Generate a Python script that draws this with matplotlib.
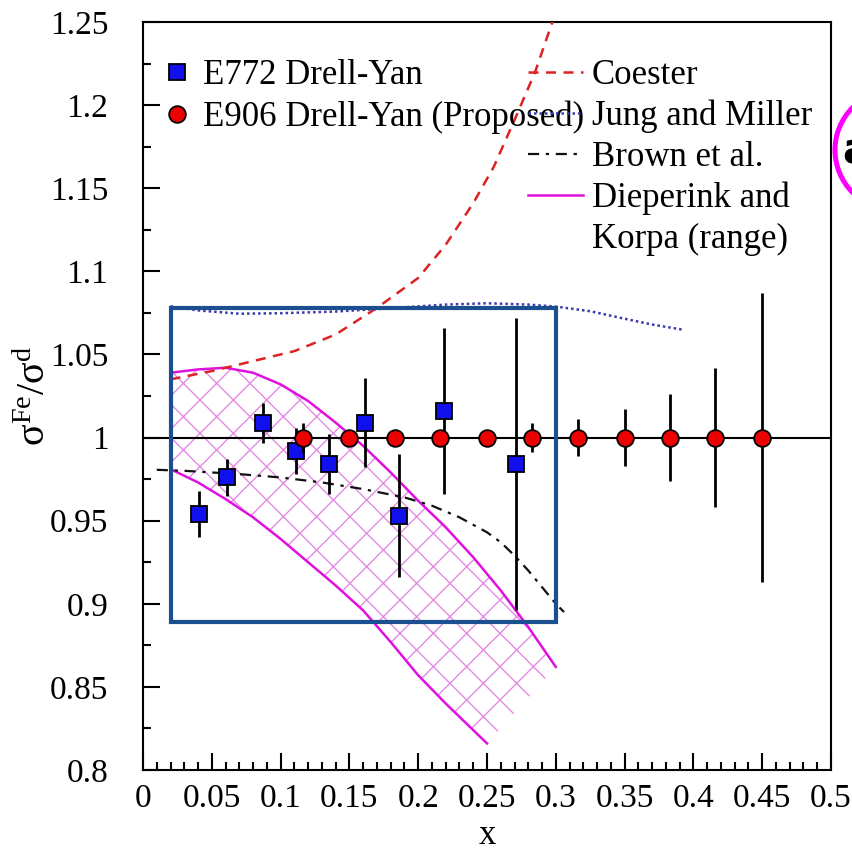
import matplotlib
matplotlib.use("Agg")
import matplotlib.pyplot as plt
from matplotlib.lines import Line2D
from matplotlib.patches import Polygon, Rectangle, Circle
from matplotlib.ticker import MultipleLocator, FuncFormatter

plt.rcParams.update({
    "font.family": "Liberation Serif",
    "mathtext.fontset": "custom",
    "mathtext.rm": "Liberation Serif",
    "mathtext.it": "Liberation Serif:italic",
    "hatch.linewidth": 1.0,
})

# E772 Drell-Yan (measured)
e772_x = [0.041, 0.061, 0.087, 0.111, 0.135, 0.161, 0.186, 0.219, 0.271]
e772_y = [0.954, 0.976, 1.009, 0.992, 0.984, 1.009, 0.953, 1.016, 0.984]
e772_err = [0.014, 0.011, 0.012, 0.014, 0.018, 0.027, 0.037, 0.050, 0.088]

# E906 Drell-Yan (proposed, projected errors at ratio 1)
e906_x = [0.116, 0.15, 0.183, 0.216, 0.25, 0.283, 0.316, 0.35, 0.383, 0.416, 0.45]
e906_y = [1.0] * len(e906_x)
e906_err = [0.009, 0.002, 0.002, 0.003, 0.004, 0.0085, 0.011, 0.017, 0.026, 0.042, 0.087]

# model curves
coester_x = [0.02, 0.05, 0.08, 0.11, 0.14, 0.17, 0.2, 0.22, 0.24, 0.255, 0.27, 0.285, 0.3]
coester_y = [1.035, 1.040, 1.046, 1.052, 1.062, 1.078, 1.096, 1.116, 1.141, 1.163, 1.191, 1.22, 1.256]

jung_x = [0.02, 0.04, 0.07, 0.1, 0.14, 0.18, 0.22, 0.25, 0.28, 0.3, 0.325, 0.35, 0.37, 0.393]
jung_y = [1.079, 1.0765, 1.0745, 1.0748, 1.0758, 1.0778, 1.080, 1.0808, 1.080, 1.0788, 1.076, 1.0715, 1.068, 1.0648]

brown_x = [0.01, 0.03, 0.05, 0.07, 0.1, 0.13, 0.16, 0.19, 0.21, 0.23, 0.25, 0.26, 0.27, 0.28, 0.29, 0.3, 0.306]
brown_y = [0.9806, 0.980, 0.979, 0.978, 0.976, 0.973, 0.969, 0.964, 0.959, 0.952, 0.943, 0.937, 0.929, 0.920, 0.910, 0.900, 0.895]

dk_hi_x = [0.02, 0.04, 0.06, 0.08, 0.1, 0.12, 0.14, 0.16, 0.18, 0.2, 0.22, 0.24, 0.26, 0.28, 0.3]
dk_hi_y = [1.039, 1.041, 1.042, 1.039, 1.032, 1.022, 1.009, 0.995, 0.979, 0.962, 0.946, 0.928, 0.908, 0.886, 0.862]
dk_lo_x = [0.02, 0.04, 0.06, 0.08, 0.1, 0.12, 0.14, 0.16, 0.18, 0.2, 0.22, 0.25]
dk_lo_y = [0.981, 0.973, 0.963, 0.952, 0.939, 0.925, 0.911, 0.896, 0.877, 0.857, 0.840, 0.816]

# highlighted region (x0, x1, y0, y1)
box_x = [0.02, 0.30]
box_y = [0.889, 1.078]

fig = plt.figure(figsize=(8.52, 8.52), dpi=100)
ax = fig.add_axes([143 / 852, 82 / 852, 688 / 852, 748 / 852])

# Dieperink & Korpa band
band = list(zip(dk_hi_x, dk_hi_y)) + list(zip(dk_lo_x[::-1], dk_lo_y[::-1]))
ax.add_patch(Polygon(band, closed=True, facecolor="none", edgecolor="#e48be4",
                     linewidth=0, hatch="x", zorder=1))
dk_col = "#e010e0"
ax.plot(dk_hi_x, dk_hi_y, color=dk_col, lw=1.8, zorder=2)
ax.plot(dk_lo_x, dk_lo_y, color=dk_col, lw=1.8, zorder=2)

ax.plot(coester_x, coester_y, color="#dd2222", lw=1.8, dashes=(4, 3), zorder=3)
ax.plot(jung_x, jung_y, color="#3a3aaa", lw=1.8, dashes=(1, 1.2), zorder=3)
ax.plot(brown_x, brown_y, color="#111111", lw=1.6, dashes=(5, 3, 1.5, 3), zorder=3)

ax.axhline(1.0, color="black", lw=1.5, zorder=4)

ax.errorbar(e772_x, e772_y, yerr=e772_err, fmt="s", color="black", ecolor="black",
            elinewidth=2, capsize=0, markersize=11, markerfacecolor="#1010ee",
            markeredgecolor="black", markeredgewidth=1.3, zorder=5)
ax.errorbar(e906_x, e906_y, yerr=e906_err, fmt="o", color="black", ecolor="black",
            elinewidth=2, capsize=0, markersize=12, markerfacecolor="#ee0000",
            markeredgecolor="black", markeredgewidth=1.3, zorder=6)

ax.add_patch(Rectangle((box_x[0], box_y[0]), box_x[1] - box_x[0], box_y[1] - box_y[0],
                       fill=False, edgecolor="#1b4f8f", lw=3, zorder=10))

ax.set_xlim(0, 0.5)
ax.set_ylim(0.8, 1.25)
ax.xaxis.set_major_locator(MultipleLocator(0.05))
ax.xaxis.set_minor_locator(MultipleLocator(0.01))
ax.yaxis.set_major_locator(MultipleLocator(0.05))
ax.yaxis.set_minor_locator(MultipleLocator(0.025))
fmt = FuncFormatter(lambda v, p: "%g" % round(v, 3))
ax.xaxis.set_major_formatter(fmt)
ax.yaxis.set_major_formatter(fmt)
ax.tick_params(which="both", direction="in", top=False, right=False, width=1.5, labelsize=24)
ax.tick_params(which="major", length=12)
ax.tick_params(which="minor", length=6)
ax.tick_params(axis="y", pad=25)
ax.tick_params(axis="x", pad=10)
for s in ax.spines.values():
    s.set_linewidth(1.5)

ax.set_xlabel("x", fontsize=25)
ax.xaxis.set_label_coords(0.5, -0.065)
ax.set_ylabel("σ$^{\\mathrm{Fe}}$/σ$^{\\mathrm{d}}$", fontsize=29)
ax.yaxis.set_label_coords(-0.13, 0.5)

# legends
left_handles = [
    Line2D([], [], ls="none", marker="s", markersize=11, markerfacecolor="#1010ee",
           markeredgecolor="black", markeredgewidth=1.3),
    Line2D([], [], ls="none", marker="o", markersize=12, markerfacecolor="#ee0000",
           markeredgecolor="black", markeredgewidth=1.3),
]
leg1 = ax.legend(left_handles, ["E772 Drell-Yan", "E906 Drell-Yan (Proposed)"],
                 loc="upper left", bbox_to_anchor=(0.024, 0.9505), frameon=False,
                 fontsize=25, handlelength=1.0, handletextpad=0.25, labelspacing=0.24,
                 borderpad=0, borderaxespad=0)
ax.add_artist(leg1)

right_handles = [
    Line2D([], [], color="#dd2222", lw=1.8, dashes=(4, 3)),
    Line2D([], [], color="#3a3aaa", lw=1.8, dashes=(1, 1.2)),
    Line2D([], [], color="#111111", lw=1.6, dashes=(5, 3, 1.5, 3)),
    Line2D([], [], color=dk_col, lw=1.8),
    Line2D([], [], ls="none"),
]
ax.legend(right_handles, ["Coester", "Jung and Miller", "Brown et al.", "Dieperink and",
                          "Korpa (range)"],
          loc="upper left", bbox_to_anchor=(0.5596, 0.9505), frameon=False,
          fontsize=25, handlelength=1.58, handletextpad=0.26, labelspacing=0.22,
          borderpad=0, borderaxespad=0)

# partial annotation marker at the right edge
fig.add_artist(Circle((895 / 852, 1 - 150 / 852), 60 / 852, transform=fig.transFigure,
                      fill=False, edgecolor="#ff00ff", lw=3.6))
fig.text(842 / 852, 1 - 152 / 852, "a", fontsize=30, fontweight="bold",
         family="DejaVu Sans", ha="left", va="center")

fig.savefig("out.png", dpi=100, facecolor="white")
